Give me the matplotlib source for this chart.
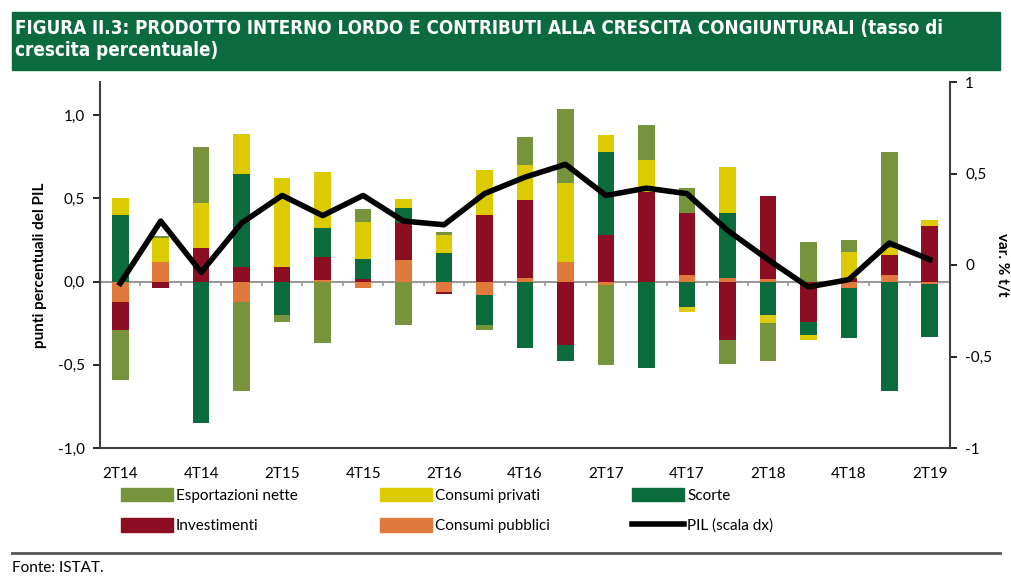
import numpy as np
import matplotlib
matplotlib.use('Agg')
import matplotlib.pyplot as plt
from matplotlib.patches import Patch, Rectangle
from matplotlib.lines import Line2D

quarters = ['2T14', '3T14', '4T14', '1T15', '2T15', '3T15', '4T15', '1T16', '2T16', '3T16', '4T16',
            '1T17', '2T17', '3T17', '4T17', '1T18', '2T18', '3T18', '4T18', '1T19', '2T19']

esportazioni = [-0.30, 0.015, 0.34, -0.53, -0.04, -0.37, 0.077, -0.26, 0.02, -0.03, 0.17,
                0.45, -0.48, 0.21, 0.15, -0.145, -0.23, 0.24, 0.07, 0.58, 0.0]
privati = [0.10, 0.14, 0.27, 0.24, 0.53, 0.34, 0.22, 0.05, 0.11, 0.27, 0.21,
           0.47, 0.10, 0.19, -0.035, 0.28, -0.05, -0.03, 0.16, 0.04, 0.035]
scorte = [0.40, 0.0, -0.85, 0.56, -0.20, 0.17, 0.125, 0.095, 0.17, -0.18, -0.40,
          -0.10, 0.50, -0.52, -0.15, 0.39, -0.20, -0.08, -0.30, -0.66, -0.32]
investimenti = [-0.17, -0.04, 0.20, 0.09, 0.09, 0.14, 0.014, 0.22, -0.015, 0.40, 0.47,
                -0.38, 0.28, 0.54, 0.37, -0.35, 0.50, -0.24, 0.02, 0.12, 0.335]
pubblici = [-0.12, 0.12, 0.0, -0.125, 0.0, 0.01, -0.04, 0.13, -0.06, -0.08, 0.02,
            0.12, -0.02, 0.0, 0.04, 0.02, 0.014, 0.0, -0.04, 0.04, -0.015]
pil = [-0.10, 0.24, -0.04, 0.23, 0.38, 0.27, 0.38, 0.24, 0.22, 0.39, 0.48,
       0.55, 0.38, 0.42, 0.39, 0.19, 0.03, -0.12, -0.08, 0.12, 0.03]

c_esp = '#77933c'
c_priv = '#dccb00'
c_scor = '#0b6b3c'
c_inv = '#8b0e23'
c_pub = '#e07a3c'
c_title = '#0b6b3e'

plt.rcParams['font.family'] = ['Lato', 'DejaVu Sans']

fig = plt.figure(figsize=(10.12, 5.78), dpi=100)

# title band
fig.patches.append(Rectangle((12 / 1012, 1 - 70 / 578), 988 / 1012, 58 / 578,
                             transform=fig.transFigure, color=c_title, zorder=0))
fig.text(15 / 1012, 1 - 19 / 578,
         'FIGURA II.3: PRODOTTO INTERNO LORDO E CONTRIBUTI ALLA CRESCITA CONGIUNTURALI (tasso di\ncrescita percentuale)',
         color='white', fontsize=13.5, fontweight='heavy', fontstretch='condensed',
         family=['DejaVu Sans'], va='top', ha='left', linespacing=1.2)

ax = fig.add_axes([100 / 1012, 1 - 448 / 578, 850 / 1012, 366 / 578])
x = np.arange(len(quarters))
w = 0.41

# stacking order from zero outward
series = [(pubblici, c_pub), (investimenti, c_inv), (scorte, c_scor),
          (privati, c_priv), (esportazioni, c_esp)]
pos = np.zeros(len(x))
neg = np.zeros(len(x))
for vals, col in series:
    v = np.array(vals)
    base = np.where(v >= 0, pos, neg)
    ax.bar(x, v, w, bottom=base, color=col, zorder=2, linewidth=0)
    pos = pos + np.where(v >= 0, v, 0)
    neg = neg + np.where(v < 0, v, 0)

ax.set_xlim(-0.5, len(x) - 0.5)
ax.set_ylim(-1.0, 1.2)
ax.set_yticks([-1.0, -0.5, 0.0, 0.5, 1.0])
ax.set_yticklabels(['-1,0', '-0,5', '0,0', '0,5', '1,0'])
ax.set_xticks(x[::2])
ax.set_xticklabels(quarters[::2])
ax.tick_params(axis='x', length=0, pad=14, labelsize=11)
ax.tick_params(axis='y', labelsize=11, direction='out', length=5, width=1.2, pad=6)
ax.set_ylabel('punti percentuali del PIL', fontsize=11, fontweight='bold', labelpad=8)

ax.axhline(0, color='#999999', lw=1.5, zorder=1)
ax.vlines(x[:-1] + 0.5, -0.025, 0, color='#999999', lw=1.2, zorder=1)

ax.spines['top'].set_visible(False)
ax.spines['right'].set_visible(False)
ax.spines['left'].set_color('#404040')
ax.spines['left'].set_linewidth(1.5)
ax.spines['bottom'].set_color('#404040')
ax.spines['bottom'].set_linewidth(1.5)

ax2 = ax.twinx()
ax2.plot(x, pil, color='black', lw=4, zorder=5)
ax2.set_ylim(-1, 1)
ax2.set_yticks([-1, -0.5, 0, 0.5, 1])
ax2.set_yticklabels(['-1', '-0,5', '0', '0,5', '1'])
ax2.tick_params(axis='y', labelsize=11, direction='out', length=5, width=1.2, pad=6)
ax2.set_ylabel('var. % t/t', fontsize=11, fontweight='bold', rotation=270, labelpad=12)
for s in ['top', 'left', 'bottom']:
    ax2.spines[s].set_visible(False)
ax2.spines['right'].set_color('#404040')
ax2.spines['right'].set_linewidth(1.5)

handles = [Patch(color=c_esp), Patch(color=c_inv), Patch(color=c_priv),
           Patch(color=c_pub), Patch(color=c_scor), Line2D([], [], color='black', lw=4)]
labels = ['Esportazioni nette', 'Investimenti', 'Consumi privati',
          'Consumi pubblici', 'Scorte', 'PIL (scala dx)']
fig.legend(handles, labels, ncol=3, loc='upper left', bbox_to_anchor=(107 / 1012, 1 - 474 / 578),
           frameon=False, fontsize=11, handlelength=3.4, handleheight=1.0, handletextpad=0.2,
           columnspacing=5.4, labelspacing=1.0)

fig.add_artist(Line2D([12 / 1012, 1000 / 1012], [1 - 553 / 578, 1 - 553 / 578],
                      transform=fig.transFigure, color='#555555', lw=2))
fig.text(12 / 1012, 1 - 568 / 578, 'Fonte: ISTAT.', fontsize=11, va='center', ha='left')

fig.savefig('out.png', dpi=100)
